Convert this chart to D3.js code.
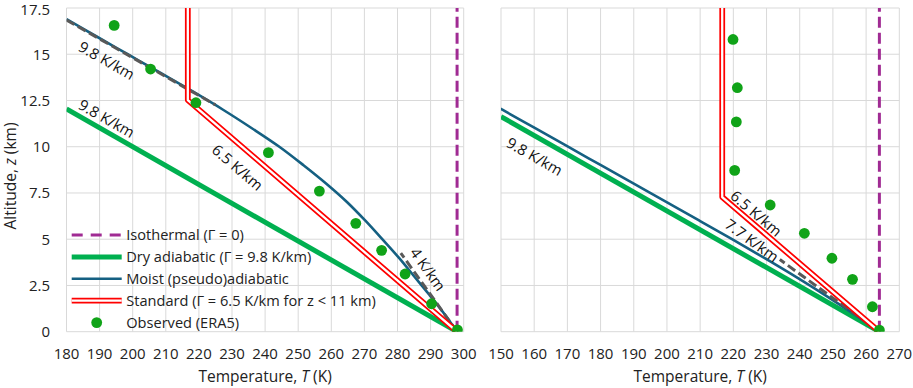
<!DOCTYPE html>
<html>
<head>
<meta charset="utf-8">
<script src="https://cdn.jsdelivr.net/npm/d3@7"></script>
<style>
  body { margin: 0; background: #fff; }
  svg { font-family: "Open Sans", sans-serif; }
  .grid line { stroke: #d9d9d9; stroke-width: 1; }
  .tick-label { font-size: 15px; fill: #222; }
  .axis-title { font-size: 15.5px; fill: #222; }
  .note { font-size: 15px; fill: #111; }
  .legend text { font-size: 14.6px; fill: #222; }
</style>
</head>
<body>
<svg id="chart"></svg>
<script>
// ---- data ----
const zTicks = [0, 2.5, 5, 7.5, 10, 12.5, 15, 17.5];
const zTickLabels = ["0", "2.5", "5", "7.5", "10", "12.5", "15", "17.5"];
const tTicksLeft = [180, 190, 200, 210, 220, 230, 240, 250, 260, 270, 280, 290, 300];
const tTicksRight = [150, 160, 170, 180, 190, 200, 210, 220, 230, 240, 250, 260, 270];

// left panel (warm surface, 298 K)
const isoLeftT = [298, 298];
const isoLeftZ = [0, 17.5];
const dryLeftT = [298, 180];
const dryLeftZ = [0, 12.04];
const moistLeftT = [298, 294, 289.6, 285, 280.4, 275.4, 270.3, 264.8, 258.5, 251.6, 244.3, 236, 227.3, 218, 208.3, 198.5, 188.7, 180];
const moistLeftZ = [0, 1, 2, 3, 4, 5, 6, 7, 8, 9, 10, 11, 12, 13, 14, 15, 16, 16.9];
const stdLeftT = [298, 216.65, 216.65];
const stdLeftZ = [0, 12.52, 17.5];
const obsLeftT = [298.1, 290.3, 282.3, 275.2, 267.4, 256.4, 241.0, 219.1, 205.4, 194.4];
const obsLeftZ = [0.1, 1.51, 3.12, 4.4, 5.86, 7.6, 9.68, 12.38, 14.2, 16.56];
const guideLeftTopT = [180, 225];
const guideLeftTopZ = [16.85, 12.26];
const guideLeftLowT = [298, 281];
const guideLeftLowZ = [0, 4.25];

// right panel (cold surface, 264 K)
const isoRightT = [264, 264];
const isoRightZ = [0, 17.5];
const dryRightT = [264, 150];
const dryRightZ = [0, 11.63];
const moistRightT = [264, 255.9, 247.4, 238.5, 229.2, 219.6, 209.8, 199.9, 190.0, 180.1, 170.2, 160.3, 150.4, 149.4];
const moistRightZ = [0, 1, 2, 3, 4, 5, 6, 7, 8, 9, 10, 11, 12, 12.1];
const stdRightT = [264, 216.65, 216.65];
const stdRightZ = [0, 7.28, 17.5];
const obsRightT = [264.0, 261.9, 255.9, 249.7, 241.4, 231.1, 220.4, 220.9, 221.2, 219.9];
const obsRightZ = [0.09, 1.35, 2.83, 3.97, 5.32, 6.85, 8.72, 11.34, 13.19, 15.8];
const guideRightT = [264, 234];
const guideRightZ = [0, 3.9];

// lapse-rate annotations: text, lapse rate (K/km), position (T, z)
const notesLeft = [
  {text: "9.8 K/km", rate: 9.8, T: 192.2, z: 14.69},
  {text: "9.8 K/km", rate: 9.8, T: 192.2, z: 11.55},
  {text: "6.5 K/km", rate: 6.5, T: 231.8, z: 8.9},
  {text: "4 K/km", rate: 4, T: 289.3, z: 3.39}
];
const notesRight = [
  {text: "9.8 K/km", rate: 9.8, T: 160.2, z: 9.5},
  {text: "6.5 K/km", rate: 6.5, T: 227.0, z: 6.42},
  {text: "7.7 K/km", rate: 7.7, T: 225.7, z: 4.96}
];

const legendLabels = [
  "Isothermal (\u0393 = 0)",
  "Dry adiabatic (\u0393 = 9.8 K/km)",
  "Moist (pseudo)adiabatic",
  "Standard (\u0393 = 6.5 K/km for z < 11 km)",
  "Observed (ERA5)"
];

const colors = {
  iso: "#a02b93",
  dry: "#00b050",
  moist: "#156082",
  std: "#ff0000",
  obs: "#10a318",
  guide: "#595959"
};

// ---- layout ----
const W = 913, H = 388;
const svg = d3.select("#chart").attr("width", W).attr("height", H);

const yscale = d3.scaleLinear().domain([0, 17.5]).range([331.7, 8]);

function zip(ts, zs) { return ts.map((t, i) => [t, zs[i]]); }

function createPanel(id, xRange, tDomain, tTicks, d, showY) {
  const xscale = d3.scaleLinear().domain(tDomain).range(xRange);
  const g = svg.append("g").attr("id", id);

  g.append("clipPath").attr("id", id + "-clip")
    .append("rect")
    .attr("x", xRange[0]).attr("y", yscale(17.5))
    .attr("width", xRange[1] - xRange[0]).attr("height", yscale(0) - yscale(17.5));

  // gridlines
  const grid = g.append("g").attr("class", "grid");
  grid.selectAll("line.v").data(tTicks).join("line").attr("class", "v")
    .attr("x1", (t) => xscale(t)).attr("x2", (t) => xscale(t))
    .attr("y1", yscale(0)).attr("y2", yscale(17.5));
  grid.selectAll("line.h").data(zTicks).join("line").attr("class", "h")
    .attr("x1", xRange[0]).attr("x2", xRange[1])
    .attr("y1", (z) => yscale(z)).attr("y2", (z) => yscale(z));

  // x tick labels
  g.selectAll("text.xt").data(tTicks).join("text").attr("class", "tick-label xt")
    .attr("x", (t) => xscale(t)).attr("y", 358.5)
    .attr("text-anchor", "middle").text((t) => t);

  if (showY) {
    g.selectAll("text.yt").data(zTicks).join("text").attr("class", "tick-label yt")
      .attr("x", 50).attr("y", (z) => Math.max(yscale(z) + 5.3, 14.5))
      .attr("text-anchor", "end").text((z, i) => zTickLabels[i]);
  }

  // x axis title
  const xt = g.append("text").attr("class", "axis-title")
    .attr("x", (xRange[0] + xRange[1]) / 2).attr("y", 382).attr("text-anchor", "middle");
  xt.append("tspan").text("Temperature, ");
  xt.append("tspan").attr("font-style", "italic").text("T");
  xt.append("tspan").text(" (K)");

  const line = d3.line().x((p) => xscale(p[0])).y((p) => yscale(p[1]));
  const smooth = d3.line().curve(d3.curveCatmullRom).x((p) => xscale(p[0])).y((p) => yscale(p[1]));
  const plot = g.append("g").attr("clip-path", `url(#${id}-clip)`);

  plot.append("path").attr("d", line(d.iso)).attr("fill", "none")
    .attr("stroke", colors.iso).attr("stroke-width", 3).attr("stroke-dasharray", "11,5");
  plot.append("path").attr("d", line(d.dry)).attr("fill", "none")
    .attr("stroke", colors.dry).attr("stroke-width", 5);
  plot.append("path").attr("d", smooth(d.moist)).attr("fill", "none")
    .attr("stroke", colors.moist).attr("stroke-width", 2.6);
  d.guides.forEach((gd) => {
    plot.append("path").attr("d", line(gd)).attr("fill", "none")
      .attr("stroke", colors.guide).attr("stroke-width", 3).attr("stroke-dasharray", "9,4");
  });
  // double red line
  plot.append("path").attr("d", line(d.std)).attr("fill", "none")
    .attr("stroke", colors.std).attr("stroke-width", 5.8).attr("stroke-linejoin", "round");
  plot.append("path").attr("d", line(d.std)).attr("fill", "none")
    .attr("stroke", "#fff").attr("stroke-width", 2.3).attr("stroke-linejoin", "round");

  plot.selectAll("circle.obs").data(d.obs).join("circle").attr("class", "obs")
    .attr("cx", (p) => xscale(p[0])).attr("cy", (p) => yscale(p[1])).attr("r", 5.4)
    .attr("fill", colors.obs);

  // rotated lapse-rate notes, angle from the slope of the rate in pixel space
  const pxPerK = Math.abs(xscale(1) - xscale(0));
  const pxPerKm = Math.abs(yscale(1) - yscale(0));
  g.selectAll("text.note").data(d.notes).join("text").attr("class", "note")
    .attr("text-anchor", "middle").attr("dominant-baseline", "central")
    .attr("transform", (n) => {
      const a = Math.atan2(pxPerKm, n.rate * pxPerK) * 180 / Math.PI;
      return `translate(${xscale(n.T)},${yscale(n.z)}) rotate(${a})`;
    })
    .text((n) => n.text);

  return g;
}

createPanel("left", [66.5, 463.7], [180, 300], tTicksLeft, {
  iso: zip(isoLeftT, isoLeftZ),
  dry: zip(dryLeftT, dryLeftZ),
  moist: zip(moistLeftT, moistLeftZ),
  std: zip(stdLeftT, stdLeftZ),
  obs: zip(obsLeftT, obsLeftZ),
  guides: [zip(guideLeftTopT, guideLeftTopZ), zip(guideLeftLowT, guideLeftLowZ)],
  notes: notesLeft
}, true);

createPanel("right", [501, 899.3], [150, 270], tTicksRight, {
  iso: zip(isoRightT, isoRightZ),
  dry: zip(dryRightT, dryRightZ),
  moist: zip(moistRightT, moistRightZ),
  std: zip(stdRightT, stdRightZ),
  obs: zip(obsRightT, obsRightZ),
  guides: [zip(guideRightT, guideRightZ)],
  notes: notesRight
}, false);

// y axis title
const yt = svg.append("text").attr("class", "axis-title")
  .attr("transform", "translate(16,176) rotate(-90)").attr("text-anchor", "middle");
yt.append("tspan").text("Altitude, ");
yt.append("tspan").attr("font-style", "italic").text("z");
yt.append("tspan").text(" (km)");

// legend
const legend = svg.append("g").attr("class", "legend").attr("transform", "translate(71.7,235)");
const rowH = 21.9;
legendLabels.forEach((lab, i) => {
  const row = legend.append("g").attr("transform", `translate(0,${i * rowH})`);
  if (i === 0) {
    row.append("line").attr("x1", 0).attr("x2", 50).attr("stroke", colors.iso)
      .attr("stroke-width", 3).attr("stroke-dasharray", "11,8");
  } else if (i === 1) {
    row.append("line").attr("x1", 0).attr("x2", 50).attr("stroke", colors.dry).attr("stroke-width", 5);
  } else if (i === 2) {
    row.append("line").attr("x1", 0).attr("x2", 50).attr("stroke", colors.moist).attr("stroke-width", 2.6);
  } else if (i === 3) {
    row.append("line").attr("x1", 0).attr("x2", 50).attr("stroke", colors.std).attr("stroke-width", 5.8);
    row.append("line").attr("x1", 0).attr("x2", 50).attr("stroke", "#fff").attr("stroke-width", 2.3);
  } else {
    row.append("circle").attr("cx", 25).attr("r", 5.4).attr("fill", colors.obs);
  }
  row.append("text").attr("x", 54.5).attr("y", 5.2).text(lab);
});
</script>
</body>
</html>
